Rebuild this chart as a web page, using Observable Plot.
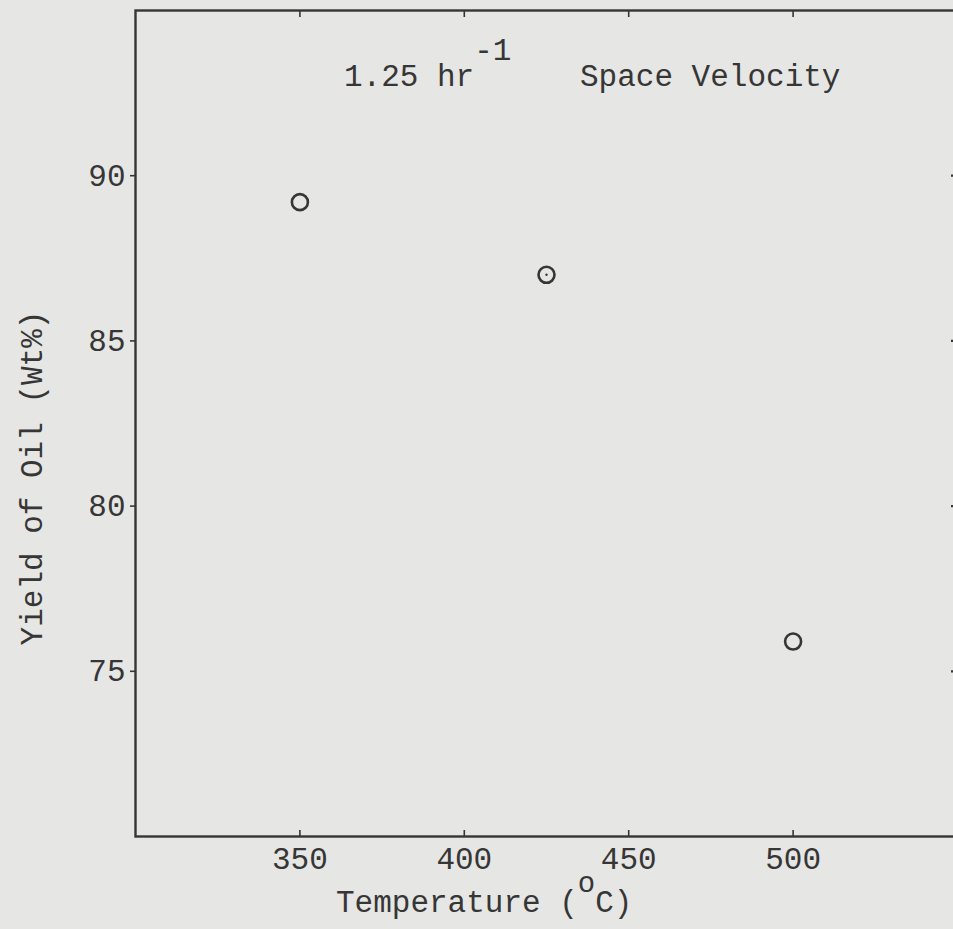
<!DOCTYPE html>
<html>
<head>
<meta charset="utf-8">
<script src="https://cdn.jsdelivr.net/npm/d3@7"></script>
<script src="https://cdn.jsdelivr.net/npm/@observablehq/plot@0.6"></script>
<style>
  html, body { margin: 0; padding: 0; background: #e6e6e4; overflow: hidden; }
  #chart svg { display: block; max-width: none !important; }
</style>
</head>
<body>
<div id="chart"></div>
<script>
// Data
const temperatures = [350, 425, 500];
const oilYields = [89.2, 87.0, 75.9];
const centerDot = [false, true, false];
const xTicks = [350, 400, 450, 500];
const yTicks = [75, 80, 85, 90];
const xDomain = [300, 550];
const yDomain = [70, 95];
const titleMain = "1.25 hr";
const titleSup = "-1";
const titleRest = "Space Velocity";
const xLabelMain = "Temperature (";
const xLabelSup = "o";
const xLabelEnd = "C)";
const yLabel = "Yield of Oil (Wt%)";

const points = temperatures.map((t, i) => ({temp: t, yield: oilYields[i], dot: centerDot[i]}));

const ink = "#363636";
const font = "'Liberation Mono', 'DejaVu Sans Mono', monospace";

const chart = Plot.plot({
  width: 960,
  height: 929,
  marginLeft: 135,
  marginRight: 3,
  marginTop: 10,
  marginBottom: 93,
  style: {background: "transparent", fontFamily: font, fontSize: "31px", color: ink, overflow: "visible", maxWidth: "none"},
  x: {domain: xDomain, label: null},
  y: {domain: yDomain, label: null},
  marks: [
    Plot.frame({stroke: ink, strokeWidth: 2.4}),
    // tick marks (inside) bottom & top
    Plot.axisX({ticks: xTicks, anchor: "bottom", tickSize: -6, tickFormat: () => "", strokeWidth: 1.6, label: null}),
    Plot.axisX({ticks: xTicks, anchor: "top", tickSize: -6, tickFormat: () => "", strokeWidth: 1.6, label: null}),
    Plot.axisX({ticks: xTicks, anchor: "bottom", tickSize: 0, tickPadding: 10, fontSize: 31, fill: ink, label: null}),
    // left ticks (outside) and right ticks (inside)
    Plot.axisY({ticks: yTicks, anchor: "left", tickSize: 5, tickFormat: () => "", strokeWidth: 1.6, label: null}),
    Plot.axisY({ticks: yTicks, anchor: "right", tickSize: -7, tickFormat: () => "", strokeWidth: 2.2, label: null}),
    Plot.axisY({ticks: yTicks, anchor: "left", tickSize: 0, tickPadding: 10, fontSize: 31, fill: ink, label: null}),
    // data
    Plot.dot(points, {x: "temp", y: "yield", r: 8, stroke: ink, strokeWidth: 2.6, fill: "none"}),
    Plot.dot(points.filter(d => d.dot), {x: "temp", y: "yield", r: 1.2, fill: ink})
  ]
});

document.getElementById("chart").appendChild(chart);

const svg = d3.select(chart);
// Title inside plot frame
const t = svg.append("text")
  .attr("x", 344).attr("y", 86).attr("text-anchor", "start")
  .attr("fill", ink).attr("font-family", font).attr("font-size", 31);
t.append("tspan").text(titleMain);
t.append("tspan").attr("dy", -26).text(titleSup);
t.append("tspan").attr("x", 580).attr("dy", 26).text(titleRest);

// X axis label
const xl = svg.append("text")
  .attr("x", 336).attr("y", 912).attr("text-anchor", "start")
  .attr("fill", ink).attr("font-family", font).attr("font-size", 31);
xl.append("tspan").text(xLabelMain);
xl.append("tspan").attr("dy", -20).attr("font-size", 29).text(xLabelSup);
xl.append("tspan").attr("dy", 20).text(xLabelEnd);

// Y axis label
svg.append("text")
  .attr("transform", "translate(42,478) rotate(-90)")
  .attr("text-anchor", "middle")
  .attr("fill", ink).attr("font-family", font).attr("font-size", 31)
  .text(yLabel);
</script>
</body>
</html>
